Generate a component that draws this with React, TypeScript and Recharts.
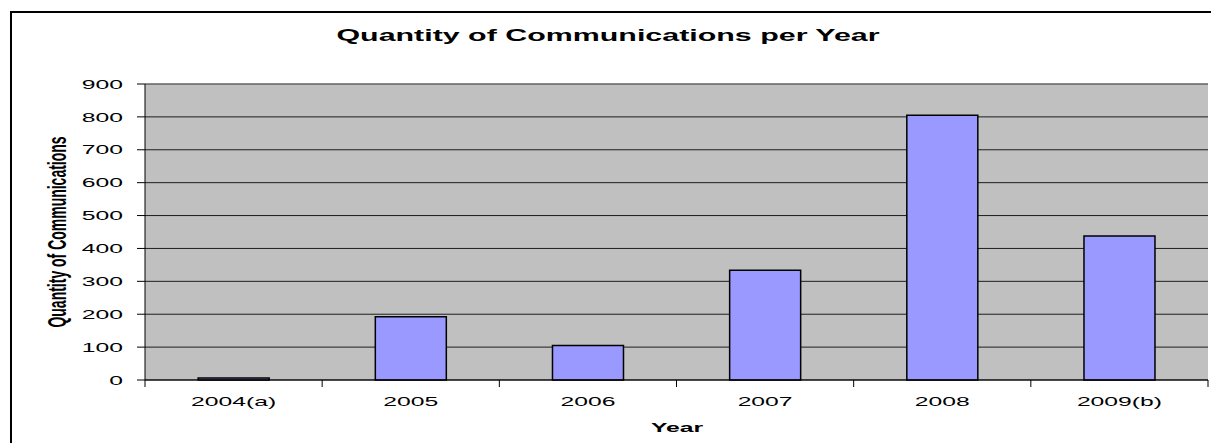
import React from 'react';
import { BarChart, Bar, XAxis, YAxis, CartesianGrid, ReferenceLine } from 'recharts';

const years = ['2004(a)', '2005', '2006', '2007', '2008', '2009(b)'];
const quantities = [6, 192, 105, 334, 805, 438];
const yTicks = [0, 100, 200, 300, 400, 500, 600, 700, 800, 900];

const data = years.map((year, i) => ({ year, quantity: quantities[i] }));

const font = 'Arial, "Liberation Sans", sans-serif';
const SX = 1.9;

const XTick = (props: any) => {
  const { x, y, payload, index } = props;
  const off = payload?.offset ?? 0;
  return (
    <g>
      <line x1={x - off} x2={x - off} y1={y - 8} y2={y - 1} stroke="#000" strokeWidth={1} />
      {index === years.length - 1 && (
        <line x1={x + off} x2={x + off} y1={y - 8} y2={y - 1} stroke="#000" strokeWidth={1} />
      )}
      <text
        transform={`translate(${x},${y + 18}) scale(${SX},1)`}
        textAnchor="middle"
        fontSize={13}
        fontFamily={font}
        fill="#000"
      >
        {payload.value}
      </text>
    </g>
  );
};

const YTick = (props: any) => {
  const { x, y, payload } = props;
  return (
    <text
      transform={`translate(${x},${y}) scale(${SX},1)`}
      textAnchor="end"
      dy="0.36em"
      fontSize={13}
      fontFamily={font}
      fill="#000"
    >
      {payload.value}
    </text>
  );
};

export default function App() {
  return (
    <div style={{ position: 'absolute', left: 0, top: 0, width: 1211, height: 443, background: '#fff', overflow: 'hidden' }}>
      <div style={{ position: 'absolute', left: 10, top: 11, width: 1220, height: 460, borderLeft: '2px solid #000', borderTop: '2px solid #000' }} />
      <div style={{ position: 'absolute', left: 0, top: 0 }}>
        <BarChart
          width={1211}
          height={443}
          data={data}
          margin={{ top: 84, right: 3, bottom: 0, left: 85 }}
          barCategoryGap="30%"
        >
          <CartesianGrid vertical={false} fill="#C0C0C0" stroke="#000" strokeOpacity={0.85} />
          <ReferenceLine y={900} stroke="#808080" strokeWidth={1} />
          <XAxis
            dataKey="year"
            height={63}
            tickLine={false}
            tick={<XTick />}
            axisLine={{ stroke: '#000' }}
            interval={0}
            tickSize={8}
            tickMargin={0}
          />
          <YAxis
            width={60}
            domain={[0, 900]}
            ticks={yTicks}
            interval={0}
            tickSize={8}
            tickMargin={14}
            axisLine={{ stroke: '#000' }}
            tickLine={{ stroke: '#000' }}
            tick={<YTick />}
          />
          <YAxis yAxisId="r" orientation="right" width={0} tick={false} tickLine={false} axisLine={{ stroke: '#808080' }} />
          <Bar dataKey="quantity" fill="#9999FF" stroke="#000" strokeWidth={1.5} isAnimationActive={false} />
        </BarChart>
      </div>
      <svg width={1211} height={443} style={{ position: 'absolute', left: 0, top: 0, pointerEvents: 'none' }}>
        <text
          transform={`translate(608,41) scale(${SX},1)`}
          textAnchor="middle"
          fontFamily={font}
          fontWeight="bold"
          fontSize={16}
          fill="#000"
        >
          Quantity of Communications per Year
        </text>
        <text
          transform={`translate(677,432) scale(${SX},1)`}
          textAnchor="middle"
          fontFamily={font}
          fontWeight="bold"
          fontSize={13}
          fill="#000"
        >
          Year
        </text>
        <text
          transform={`translate(57,232) scale(1.85,1) rotate(-90)`}
          textAnchor="middle"
          dominantBaseline="central"
          fontFamily={font}
          fontWeight="bold"
          fontSize={14}
          fill="#000"
        >
          Quantity of Communications
        </text>
      </svg>
    </div>
  );
}
